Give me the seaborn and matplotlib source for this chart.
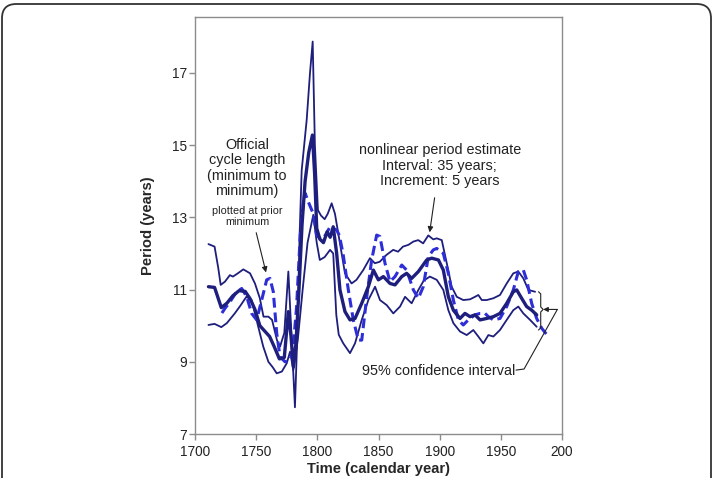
import numpy as np
import pandas as pd
import matplotlib
matplotlib.use("Agg")
import matplotlib.pyplot as plt
import seaborn as sns
from matplotlib.patches import FancyBboxPatch

# --- data ---
years_upper = [1711, 1716, 1719, 1721, 1724.5, 1728.5, 1731, 1735, 1739.5, 1745, 1749, 1753,
               1756, 1760, 1763, 1767, 1769.5, 1773, 1776.3, 1778.5, 1781.7, 1783.5, 1785.5,
               1787.2, 1791.3, 1794, 1796.2, 1798, 1800.5, 1803, 1806, 1808.5, 1811.7, 1814.4,
               1818.5, 1822.6, 1828, 1832, 1837.5, 1843, 1847, 1851, 1856.5, 1862, 1866, 1870,
               1874.5, 1878.5, 1882.5, 1886.5, 1890.7, 1894.8, 1897.6, 1901.7, 1905.8, 1909.8,
               1914, 1919.3, 1924.8, 1928.9, 1931.6, 1934.4, 1938.4, 1943.9, 1949.3, 1954.8,
               1960.2, 1964.3, 1968.4, 1972.5, 1978]
values_upper = [12.26, 12.19, 11.6, 11.13, 11.22, 11.4, 11.36, 11.45, 11.56, 11.45, 11.17, 10.76,
                10.25, 10.25, 10.16, 9.6, 9.42, 9.8, 11.5, 10.0, 7.74, 9.6, 12.5,
                14.3, 15.7, 17.0, 17.87, 15.0, 13.2, 13.05, 12.95, 13.1, 13.39, 13.1,
                12.28, 11.45, 11.17, 11.27, 11.54, 11.87, 11.73, 11.77, 11.96, 12.1, 12.05, 12.19,
                12.24, 12.33, 12.37, 12.28, 12.5, 12.39, 12.42, 12.37, 11.73, 11.08,
                10.8, 10.71, 10.73, 10.8, 10.85, 10.71, 10.71, 10.76, 10.85, 11.17,
                11.45, 11.5, 11.31, 10.99, 10.94]

years_center = [1711, 1716, 1721.5, 1726, 1731, 1736, 1741, 1745, 1749, 1753, 1757, 1761, 1765,
                1769, 1773, 1776.3, 1778.5, 1780.4, 1782.5, 1785, 1787.5, 1790, 1793, 1796,
                1797.8, 1799.5, 1802, 1805, 1808, 1810.5, 1813, 1815.8, 1818.5, 1822.6, 1826.7,
                1830.8, 1836.3, 1841.7, 1845.8, 1849.9, 1854, 1859.4, 1863.5, 1869, 1873, 1877.1,
                1882.6, 1889.4, 1893.5, 1899, 1903, 1907.1, 1911.2, 1916.6, 1920.7, 1924.8,
                1928.9, 1933, 1938.4, 1943.9, 1949.3, 1954.8, 1960.2, 1963, 1967, 1971.1, 1975.2,
                1979.3]
values_center = [11.08, 11.06, 10.5, 10.62, 10.83, 10.97, 10.95, 10.75, 10.45, 10.0, 9.85, 9.7, 9.4,
                 9.08, 9.12, 10.39, 9.7, 8.86, 9.5, 11.0, 12.8, 14.0, 14.8, 15.28,
                 14.2, 12.7, 12.4, 12.3, 12.6, 12.45, 12.74, 12.0, 10.99, 10.39, 10.16,
                 10.2, 10.62, 11.08, 11.54, 11.27, 11.36, 11.17, 11.13, 11.36, 11.45, 11.31,
                 11.5, 11.82, 11.87, 11.82, 11.54, 10.8, 10.43, 10.2, 10.34, 10.25,
                 10.3, 10.16, 10.2, 10.25, 10.34, 10.62, 10.94, 10.99, 10.76, 10.53, 10.43,
                 10.3]

years_lower = [1711, 1716, 1721.5, 1726, 1732.5, 1737, 1742, 1746.3, 1751.7, 1755.8, 1760, 1763.5,
               1766.8, 1771, 1775, 1777.7, 1780.4, 1784, 1788, 1792, 1796.7, 1799.5, 1802, 1806,
               1810.4, 1813, 1815.5, 1817.5, 1821.2, 1826.7, 1830.8, 1836.3, 1841.7, 1847.2,
               1851.2, 1856.7, 1862.1, 1867.6, 1871.7, 1877.1, 1882.6, 1887, 1892, 1897.6, 1903,
               1907.1, 1911.2, 1916.6, 1922.1, 1927.5, 1931.6, 1935.7, 1939.8, 1943.9, 1949.3,
               1954.8, 1960.2, 1964.3, 1968.4, 1973.9, 1979.3]
values_lower = [10.02, 10.05, 9.96, 10.07, 10.34, 10.55, 10.8, 10.71, 9.97, 9.42, 9.0, 8.85,
                8.68, 8.73, 8.96, 9.28, 8.77, 9.6, 11.0, 12.3, 13.07, 12.3, 11.82, 11.9,
                12.1, 12.0, 10.3, 9.75, 9.51, 9.24, 9.51, 10.16, 10.71, 11.08,
                10.71, 10.57, 10.34, 10.53, 10.8, 10.62, 10.99, 11.25, 11.36, 11.27, 10.99,
                10.43, 10.07, 9.84, 9.74, 9.88, 9.7, 9.51, 9.74, 9.7, 9.88,
                10.16, 10.43, 10.53, 10.34, 10.16, 9.97]

years_official = [1722, 1724.5, 1728.6, 1734, 1738.2, 1742.3, 1746.3, 1750.4, 1754.5, 1758.6,
                  1761.3, 1764, 1766.8, 1769.5, 1773.6, 1777.7, 1780, 1783, 1786, 1788.5, 1790,
                  1793, 1796.7, 1799.5, 1803, 1806.5, 1810.4, 1815.8, 1818, 1821, 1825.3, 1829.4,
                  1833.5, 1836.3, 1840.4, 1844.4, 1848.5, 1851.2, 1855.3, 1859.4, 1863.5, 1869,
                  1873, 1878.5, 1882.6, 1886.6, 1890.7, 1894.8, 1897.6, 1903, 1907.1, 1911.2,
                  1915.3, 1919.3, 1923.4, 1928.9, 1933, 1937.1, 1939.8, 1943.9, 1949.3, 1954.8,
                  1960.2, 1964.3, 1968.4, 1971.1, 1975.2, 1979.3, 1983.4, 1988.8]
values_official = [10.35, 10.48, 10.66, 10.94, 11.03, 10.8, 10.34, 10.16, 10.71, 11.27,
                   11.31, 10.94, 9.79, 9.14, 9.0, 9.05, 9.3, 10.5, 12.5, 13.4, 13.67,
                   13.4, 13.1, 12.5, 12.4, 12.5, 12.74, 12.65, 12.5, 12.0, 11.0, 10.16,
                   9.6, 9.6, 10.8, 11.82, 12.51, 12.47, 11.73, 11.22, 11.36, 11.68,
                   11.54, 10.99, 10.76, 11.08, 11.91, 12.1, 12.14, 12.0, 11.45, 10.71,
                   10.16, 10.02, 10.16, 10.3, 10.34, 10.34, 10.25, 10.16, 10.2, 10.53,
                   10.99, 11.5, 11.54, 11.27, 10.62, 10.2, 9.93, 9.7]

x_ticks = [1700, 1750, 1800, 1850, 1900, 1950, 2000]
x_tick_labels = ["1700", "1750", "1800", "1850", "1900", "1950", "200"]
y_ticks = [7, 9, 11, 13, 15, 17]

navy = "#1e1e7c"
blue = "#2e2ed8"
grey = "#8c8c8c"

sns.set_style("white")
plt.rcParams['font.family'] = ['Liberation Sans', 'DejaVu Sans']

fig = plt.figure(figsize=(7.13, 4.78), dpi=100)
ax = fig.add_axes([195 / 713, 1 - 434 / 478, (562 - 195) / 713, (434 - 17) / 478])

sns.lineplot(x=years_upper, y=values_upper, ax=ax, color=navy, lw=1.3)
sns.lineplot(x=years_lower, y=values_lower, ax=ax, color=navy, lw=1.3)
sns.lineplot(x=years_official, y=values_official, ax=ax, color=blue, lw=2.2,
             linestyle=(0, (3.2, 1.6)))
sns.lineplot(x=years_center, y=values_center, ax=ax, color=navy, lw=2.4)

ax.set_xlim(1700, 2000)
ax.set_ylim(7, 18.55)
ax.set_xticks(x_ticks)
ax.set_xticklabels(x_tick_labels)
ax.set_yticks(y_ticks)
for s in ax.spines.values():
    s.set_color(grey)
    s.set_linewidth(1.0)
ax.tick_params(axis='both', which='major', direction='out', length=4, width=1,
               color=grey, labelsize=9.8, labelcolor='#222222', pad=2,
               bottom=True, left=True)
ax.tick_params(axis='x', pad=4)
ax.set_xlabel('Time (calendar year)', fontsize=10.6, fontweight='bold', labelpad=2)
ax.set_ylabel('Period (years)', fontsize=10.6, fontweight='bold', labelpad=12)

# --- annotations ---
txt = '#222222'
ax.text(1742.5, 15.2, 'Official\ncycle length\n(minimum to\nminimum)', ha='center', va='top',
        fontsize=10.4, color=txt, linespacing=1.12)
ax.text(1742.5, 13.32, 'plotted at prior\nminimum', ha='center', va='top',
        fontsize=7.8, color=txt, linespacing=1.1)
ax.annotate('', xy=(1758.6, 11.4), xytext=(1749.5, 12.65),
            arrowprops=dict(arrowstyle='-|>', color='#222222', lw=0.8, mutation_scale=8))

ax.text(1900, 15.05, 'nonlinear period estimate\nInterval: 35 years;\nIncrement: 5 years',
        ha='center', va='top', fontsize=10.4, color=txt, linespacing=1.12)
ax.annotate('', xy=(1891.5, 12.51), xytext=(1896.2, 13.62),
            arrowprops=dict(arrowstyle='-|>', color='#222222', lw=0.8, mutation_scale=8))

ax.text(1962, 8.74, '95% confidence interval', ha='right', va='center',
        fontsize=10.4, color=txt)
ax.plot([1962.4, 1969, 1996.2], [8.77, 8.8, 10.45], color='#222222', lw=0.8)
ax.annotate('', xy=(1984.6, 10.45), xytext=(1996.2, 10.45),
            arrowprops=dict(arrowstyle='-|>', color='#222222', lw=0.8, mutation_scale=7,
                            shrinkA=0, shrinkB=0))
ax.plot([1980.8, 1982.6, 1982.6, 1984.6, 1982.6, 1982.6, 1980.8],
        [10.94, 10.88, 10.52, 10.45, 10.38, 9.94, 9.88], color='#222222', lw=0.8)

# rounded frame around the figure
frame = FancyBboxPatch((2 / 713, -0.2), 709 / 713, 1.2 - 4 / 478,
                       boxstyle='round,pad=0,rounding_size=0.02',
                       transform=fig.transFigure, fill=False, edgecolor='#333333', lw=1.3,
                       mutation_aspect=713 / 478)
fig.patches.append(frame)

fig.savefig('out.png', dpi=100)
